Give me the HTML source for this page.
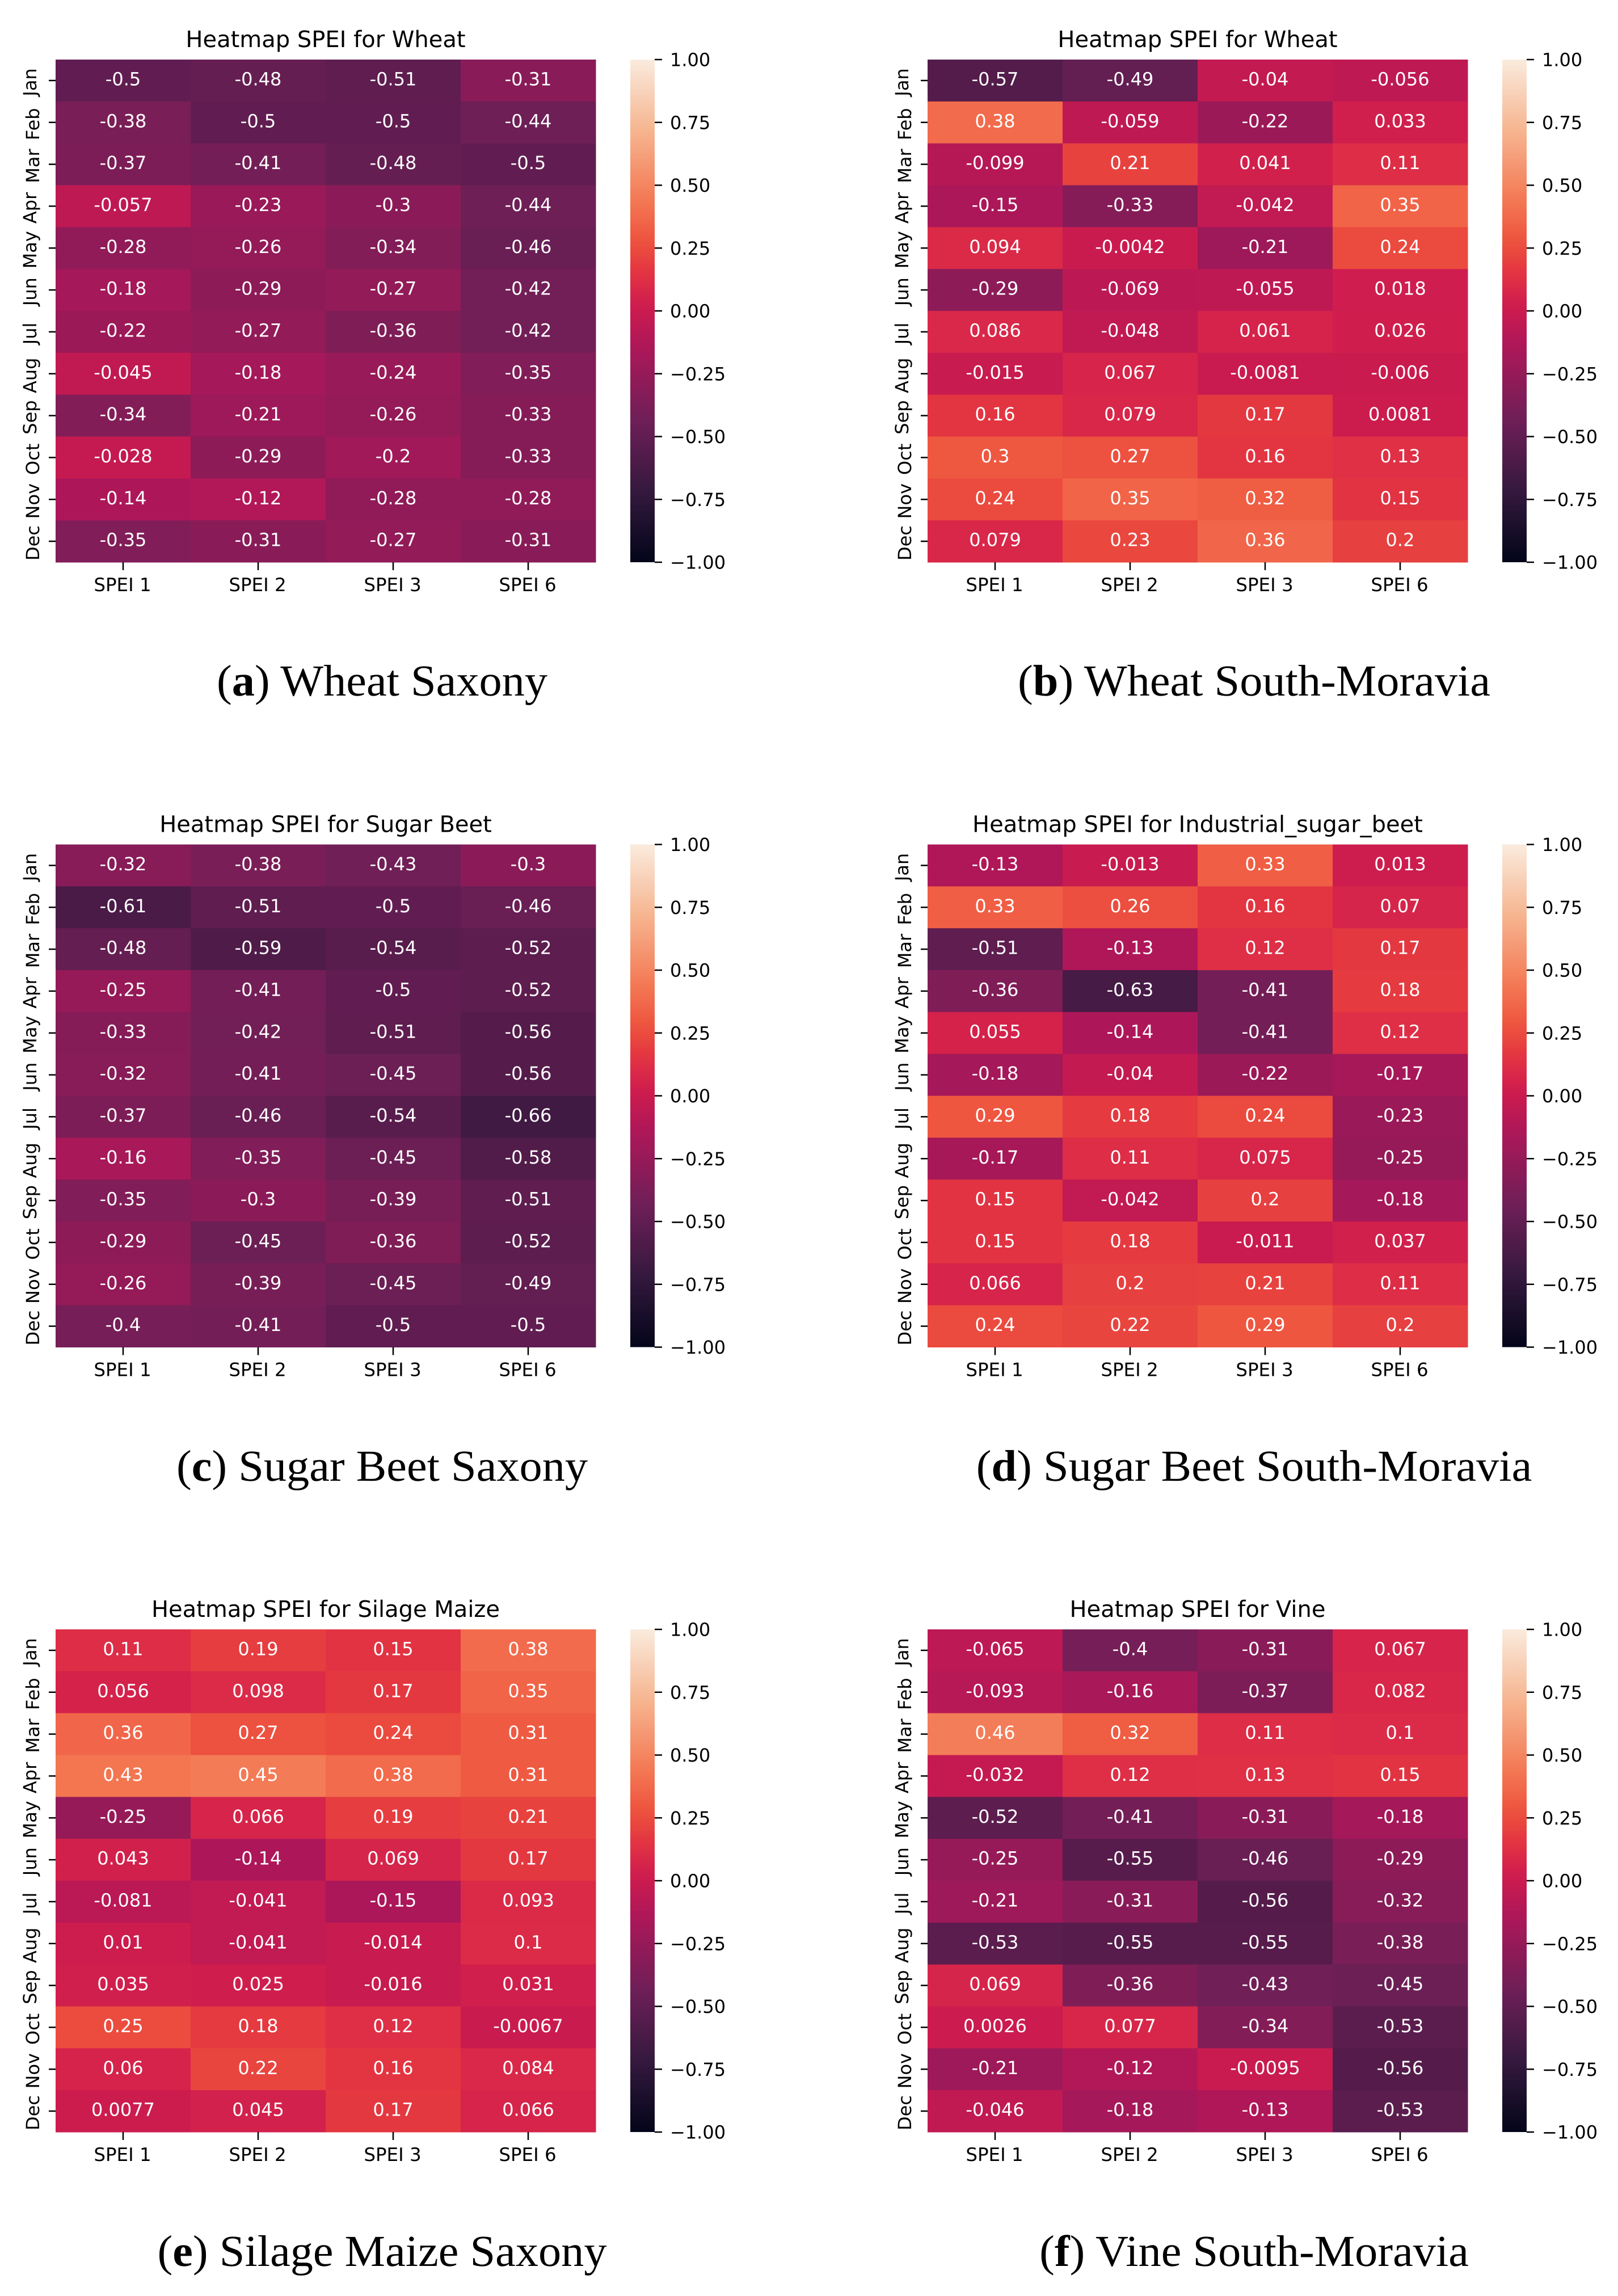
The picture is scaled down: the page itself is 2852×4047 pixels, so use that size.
<!DOCTYPE html>
<html lang="en">
<head>
<meta charset="utf-8">
<title>Heatmap SPEI panels</title>
<style>
html,body{margin:0;padding:0;background:#fff;}
svg{display:block;}
text{font-family:"DejaVu Sans",sans-serif;fill:#000;text-rendering:geometricPrecision;}
text.caption{font-family:"Liberation Serif",serif;}
</style>
</head>
<body>
<svg id="figure" xmlns="http://www.w3.org/2000/svg" width="2852" height="4047" viewBox="0 0 2852 4047"></svg>
<script>
const months = ['Jan','Feb','Mar','Apr','May','Jun','Jul','Aug','Sep','Oct','Nov','Dec'];
const indices = ['SPEI 1','SPEI 2','SPEI 3','SPEI 6'];
const colorbarTicks = [1,0.75,0.5,0.25,0,-0.25,-0.5,-0.75,-1];
const colorbarTickLabels = ['1.00','0.75','0.50','0.25','0.00','\u22120.25','\u22120.50','\u22120.75','\u22121.00'];
const titles = ['Heatmap SPEI for Wheat','Heatmap SPEI for Wheat','Heatmap SPEI for Sugar Beet','Heatmap SPEI for Industrial_sugar_beet','Heatmap SPEI for Silage Maize','Heatmap SPEI for Vine'];
const captionLetters = ['a','b','c','d','e','f'];
const captionNames = ['Wheat Saxony','Wheat South-Moravia','Sugar Beet Saxony','Sugar Beet South-Moravia','Silage Maize Saxony','Vine South-Moravia'];

const wheatSaxony = [
[-0.5,-0.48,-0.51,-0.31],
[-0.38,-0.5,-0.5,-0.44],
[-0.37,-0.41,-0.48,-0.5],
[-0.057,-0.23,-0.3,-0.44],
[-0.28,-0.26,-0.34,-0.46],
[-0.18,-0.29,-0.27,-0.42],
[-0.22,-0.27,-0.36,-0.42],
[-0.045,-0.18,-0.24,-0.35],
[-0.34,-0.21,-0.26,-0.33],
[-0.028,-0.29,-0.2,-0.33],
[-0.14,-0.12,-0.28,-0.28],
[-0.35,-0.31,-0.27,-0.31]];
const wheatMoravia = [
[-0.57,-0.49,-0.04,-0.056],
[0.38,-0.059,-0.22,0.033],
[-0.099,0.21,0.041,0.11],
[-0.15,-0.33,-0.042,0.35],
[0.094,-0.0042,-0.21,0.24],
[-0.29,-0.069,-0.055,0.018],
[0.086,-0.048,0.061,0.026],
[-0.015,0.067,-0.0081,-0.006],
[0.16,0.079,0.17,0.0081],
[0.3,0.27,0.16,0.13],
[0.24,0.35,0.32,0.15],
[0.079,0.23,0.36,0.2]];
const beetSaxony = [
[-0.32,-0.38,-0.43,-0.3],
[-0.61,-0.51,-0.5,-0.46],
[-0.48,-0.59,-0.54,-0.52],
[-0.25,-0.41,-0.5,-0.52],
[-0.33,-0.42,-0.51,-0.56],
[-0.32,-0.41,-0.45,-0.56],
[-0.37,-0.46,-0.54,-0.66],
[-0.16,-0.35,-0.45,-0.58],
[-0.35,-0.3,-0.39,-0.51],
[-0.29,-0.45,-0.36,-0.52],
[-0.26,-0.39,-0.45,-0.49],
[-0.4,-0.41,-0.5,-0.5]];
const beetMoravia = [
[-0.13,-0.013,0.33,0.013],
[0.33,0.26,0.16,0.07],
[-0.51,-0.13,0.12,0.17],
[-0.36,-0.63,-0.41,0.18],
[0.055,-0.14,-0.41,0.12],
[-0.18,-0.04,-0.22,-0.17],
[0.29,0.18,0.24,-0.23],
[-0.17,0.11,0.075,-0.25],
[0.15,-0.042,0.2,-0.18],
[0.15,0.18,-0.011,0.037],
[0.066,0.2,0.21,0.11],
[0.24,0.22,0.29,0.2]];
const maizeSaxony = [
[0.11,0.19,0.15,0.38],
[0.056,0.098,0.17,0.35],
[0.36,0.27,0.24,0.31],
[0.43,0.45,0.38,0.31],
[-0.25,0.066,0.19,0.21],
[0.043,-0.14,0.069,0.17],
[-0.081,-0.041,-0.15,0.093],
[0.01,-0.041,-0.014,0.1],
[0.035,0.025,-0.016,0.031],
[0.25,0.18,0.12,-0.0067],
[0.06,0.22,0.16,0.084],
[0.0077,0.045,0.17,0.066]];
const vineMoravia = [
[-0.065,-0.4,-0.31,0.067],
[-0.093,-0.16,-0.37,0.082],
[0.46,0.32,0.11,0.1],
[-0.032,0.12,0.13,0.15],
[-0.52,-0.41,-0.31,-0.18],
[-0.25,-0.55,-0.46,-0.29],
[-0.21,-0.31,-0.56,-0.32],
[-0.53,-0.55,-0.55,-0.38],
[0.069,-0.36,-0.43,-0.45],
[0.0026,0.077,-0.34,-0.53],
[-0.21,-0.12,-0.0095,-0.56],
[-0.046,-0.18,-0.13,-0.53]];
const panelValues = [wheatSaxony,wheatMoravia,beetSaxony,beetMoravia,maizeSaxony,vineMoravia];

const rocketPositions = [0,0.143,0.286,0.429,0.5,0.528,0.555,0.58,0.62,0.65,0.68,0.714,0.857,1];
const rocketColors = ['#03051a','#35193e','#701f57','#ad1759','#cb1b4f','#d4224b','#dd2d47','#e33541','#eb4a3e','#ee5840','#f1664a','#f37651','#f6b48f','#faebdd'];

const NS = 'http://www.w3.org/2000/svg';
const fig = document.getElementById('figure');

function hexToRgb(h){return [parseInt(h.slice(1,3),16),parseInt(h.slice(3,5),16),parseInt(h.slice(5,7),16)];}
function rocket(v){
  const t = Math.max(0,Math.min(1,(v+1)/2));
  let i = 0;
  while (i<rocketPositions.length-2 && t>rocketPositions[i+1]) i++;
  const f = (t-rocketPositions[i])/(rocketPositions[i+1]-rocketPositions[i]);
  const a = hexToRgb(rocketColors[i]), b = hexToRgb(rocketColors[i+1]);
  return 'rgb('+a.map((c,k)=>Math.round(c+(b[k]-c)*f)).join(',')+')';
}
function make(tag,attrs,parent){
  const el = document.createElementNS(NS,tag);
  for (const k in attrs) el.setAttribute(k,attrs[k]);
  parent.appendChild(el);
  return el;
}

const defs = make('defs',{},fig);
const grad = make('linearGradient',{id:'rocket-gradient',x1:0,y1:1,x2:0,y2:0},defs);
for (let i=0;i<=60;i++){
  make('stop',{offset:(i/60),'stop-color':rocket(-1+2*i/60)},grad);
}

panelValues.forEach((values,p)=>{
  const col = p%2, row = Math.floor(p/2);
  const left = 98+col*1537, right = left+952;
  const top = 105+row*1383.5, bottom = top+886;
  const xScale = i => left+(right-left)*i/indices.length;
  const yScale = j => top+(bottom-top)*j/months.length;
  const cbLeft = 1111+col*1537, cbRight = cbLeft+43;
  const cbY = v => bottom-(v+1)/2*(bottom-top);

  const g = make('g',{},fig);
  
  

  const title = make('text',{x:(left+right)/2,y:top-22,'font-size':40,'text-anchor':'middle'},g);
  title.textContent = titles[p];
  
  

  values.forEach((rowVals,j)=>{
    rowVals.forEach((v,i)=>{
      const cell = make('rect',{x:xScale(i),y:yScale(j),width:xScale(i+1)-xScale(i)+0.5,height:yScale(j+1)-yScale(j)+0.5,fill:rocket(v)},g);
      
      
    });
  });
  values.forEach((rowVals,j)=>{
    rowVals.forEach((v,i)=>{
      const label = make('text',{x:(xScale(i)+xScale(i+1))/2,y:(yScale(j)+yScale(j+1))/2+8.5,'font-size':32,'text-anchor':'middle',style:'fill:#fff'},g);
      label.textContent = String(v);
      
      
    });
  });

  months.forEach((m,j)=>{
    const cy = (yScale(j)+yScale(j+1))/2;
    const tick = make('line',{x1:left-12,x2:left,y1:cy,y2:cy,stroke:'#000','stroke-width':2.5},g);
    
    
    const lx = left-(/[Jgpqy]/.test(m)?34:29);
    const ly = cy+3;
    const t = make('text',{x:lx,y:ly,'font-size':32,'text-anchor':'middle',transform:'rotate(-90 '+lx+' '+ly+')'},g);
    t.textContent = m;
    
    
  });

  indices.forEach((s,i)=>{
    const cx = (xScale(i)+xScale(i+1))/2;
    const tick = make('line',{x1:cx,x2:cx,y1:bottom,y2:bottom+14,stroke:'#000','stroke-width':2.5},g);
    
    
    const t = make('text',{x:cx-1,y:bottom+51,'font-size':32.5,'text-anchor':'middle'},g);
    t.textContent = s;
    
    
  });

  const bar = make('rect',{x:cbLeft,y:top,width:cbRight-cbLeft,height:bottom-top,fill:'url(#rocket-gradient)'},g);
  
  
  colorbarTicks.forEach((v,k)=>{
    const y = cbY(v);
    const tick = make('line',{x1:cbRight,x2:cbRight+13,y1:y,y2:y,stroke:'#000','stroke-width':2.5},g);
    
    
    const t = make('text',{x:cbRight+27,y:y+11.5,'font-size':32},g);
    t.textContent = colorbarTickLabels[k];
    
    
  });

  const capX = 673.5+col*1537, capY = 1226+row*1384;
  const cap = make('text',{class:'caption',x:0,y:0,'font-size':78,'text-anchor':'middle',transform:'translate('+capX+' '+capY+') scale(1.03 1)'},g);
  cap.appendChild(document.createTextNode('('));
  const bold = make('tspan',{'font-weight':'bold'},cap);
  bold.textContent = captionLetters[p];
  cap.appendChild(document.createTextNode(') '+captionNames[p]));
  
  
});
</script>
</body>
</html>
